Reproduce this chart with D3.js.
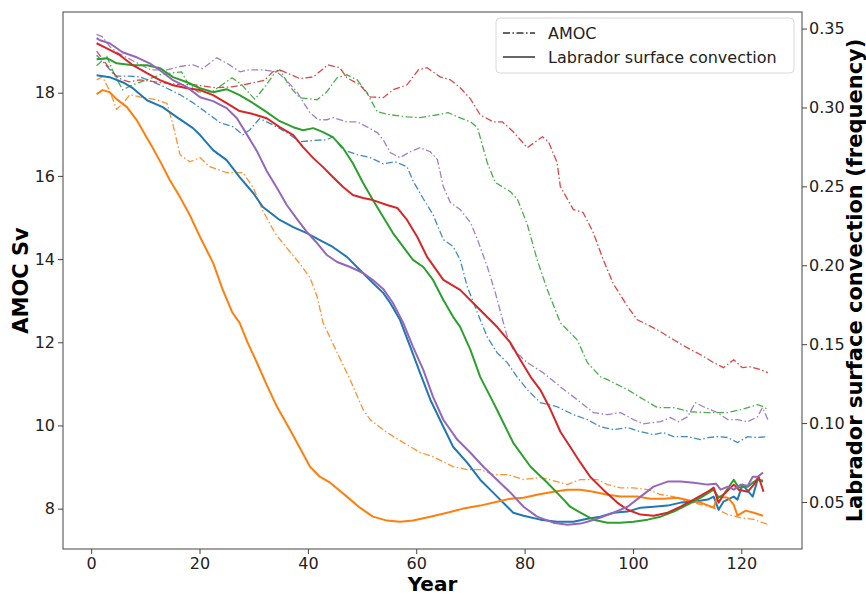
<!DOCTYPE html>
<html>
<head>
<meta charset="utf-8">
<script src="https://cdn.jsdelivr.net/npm/d3@7"></script>
<style>
  body { margin: 0; background: #fff; }
  svg { font-family: "DejaVu Sans", sans-serif; }
</style>
</head>
<body>
<svg id="chart" width="866" height="595"></svg>
<script>
// AMOC (Sv, left axis) - dash-dot lines, [year, value]
var amocBlue = [[1,18.9],[2.5,18.7],[4.4,18.4],[7,18.4],[9,18.38],[12.7,18.19],[16.4,17.95],[18.8,17.76],[21.3,17.52],[23.8,17.28],[26.2,17.18],[28,16.99],[29.3,17.11],[31.1,17.38],[33.5,17.23],[36.1,17.04],[38.5,16.82],[40.9,16.85],[43.5,16.87],[44.6,16.94],[46.5,16.63],[49.1,16.51],[51.5,16.44],[53.9,16.29],[56.1,16.34],[58.3,16.22],[59.4,15.88],[61.3,15.45],[63.1,15.07],[65,14.47],[66.8,14.3],[68.1,13.99],[69.4,13.34],[71.3,12.71],[73.1,12.13],[74.9,11.75],[76.8,11.51],[78.6,11.17],[80.5,10.86],[82.9,10.55],[86,10.45],[89,10.26],[91.6,10.14],[94,9.97],[96.4,9.9],[99,9.95],[101.4,9.85],[103.8,9.78],[105.6,9.83],[107.5,9.73],[110.1,9.73],[112.5,9.66],[113.8,9.71],[115.6,9.73],[117.5,9.71],[119.3,9.59],[121.2,9.73],[123,9.71],[124.9,9.73]];
var amocOrange = [[1,18.31],[2.1,18.38],[3.4,18.05],[4.7,17.6],[6,17.76],[7.1,17.95],[9,17.9],[12.1,17.83],[14,17.74],[15.1,17.23],[16.4,16.51],[18.2,16.34],[20.1,16.44],[21.9,16.22],[25,16.08],[28,16.08],[29.9,15.72],[31.7,15.16],[33.9,14.63],[36.1,14.27],[38.5,13.89],[40.4,13.55],[41.7,13.1],[42.8,12.47],[45.4,11.75],[47.8,11.1],[50.2,10.38],[51.5,10.14],[54.6,9.83],[57.6,9.59],[60.7,9.35],[63.1,9.25],[66.8,9.01],[69.4,8.94],[71.8,8.94],[74.2,8.82],[76.8,8.82],[79.8,8.7],[82.9,8.75],[86,8.65],[87.9,8.58],[90.3,8.7],[93.4,8.7],[95.3,8.58],[97.7,8.5],[100.1,8.5],[102.7,8.46],[105.1,8.34],[107.5,8.29],[110.1,8.17],[112.5,8.1],[114.9,8.02],[117.5,7.86],[119.9,7.78],[122.3,7.74],[124.9,7.62]];
var amocGreen = [[1,18.65],[1.6,18.72],[2.9,18.87],[4.3,18.43],[5.8,18.07],[7.7,18.19],[10.3,18.31],[12.7,18.43],[15.1,18.48],[16.7,18.5],[17.8,18.24],[19.7,18.02],[22.3,18.02],[24.7,18.24],[26,18.36],[27.8,18.19],[30.2,17.84],[32.1,18.15],[33.9,18.48],[34.8,18.55],[36.7,18.14],[38.5,17.88],[41.7,17.83],[43.5,18.02],[45.4,18.36],[47.2,18.43],[49.1,18.31],[50.9,18.0],[52.8,17.54],[55.2,17.47],[58.3,17.42],[60.7,17.4],[63.9,17.47],[65.9,17.52],[67.6,17.42],[70,17.3],[71.3,17.16],[73.1,16.32],[74.6,15.84],[77.4,15.62],[78.7,15.43],[80.5,14.83],[82.3,13.99],[84.2,13.26],[86.6,12.47],[89.7,12.06],[91.6,11.51],[94,11.17],[95.3,11.1],[99,10.86],[101.4,10.67],[104.5,10.43],[107.5,10.43],[110.6,10.33],[113.8,10.31],[117.5,10.31],[119.9,10.38],[123,10.5],[124.1,10.45],[124.9,10.38]];
var amocRed = [[1,19.0],[3,18.65],[5,18.35],[7,18.26],[9,18.31],[13,18.24],[16,18.2],[19,18.19],[23,18.12],[26,18.14],[30,18.24],[32,18.3],[33.5,18.5],[34.8,18.55],[38.5,18.34],[41,18.38],[43.7,18.67],[45.9,18.6],[47.2,18.36],[49.6,18.19],[51.5,17.9],[53.9,17.88],[55.7,18.07],[58.3,18.19],[60.4,18.55],[62,18.6],[64.4,18.38],[66.3,18.31],[68.1,18.12],[70,17.85],[71.8,17.47],[74.2,17.3],[75.9,17.3],[77.9,17.06],[80.5,16.68],[83.3,16.94],[84.4,16.82],[86,16.32],[86.6,15.74],[89,15.19],[90.8,15.12],[92.7,14.63],[94.5,13.99],[96.4,13.4],[99,12.86],[100.8,12.54],[102.7,12.42],[104.5,12.3],[107.5,12.06],[110,11.87],[112.5,11.7],[114.9,11.51],[116.7,11.39],[118.6,11.58],[120.2,11.39],[121.7,11.41],[123.6,11.34],[124.9,11.27]];
var amocPurple = [[1,19.4],[2,19.35],[3.5,19.1],[5,18.95],[8,18.75],[11,18.55],[14,18.55],[16.4,18.63],[18.8,18.67],[20.6,18.58],[23.2,18.84],[25.4,18.68],[27.5,18.5],[29,18.55],[31.7,18.55],[34.3,18.5],[36.1,18.29],[38,18.02],[39.1,17.78],[40.4,17.52],[41.9,17.35],[43.5,17.35],[44.6,17.4],[47.2,17.3],[49.1,17.3],[50.9,17.18],[52.8,17.04],[53.9,16.87],[55.2,16.56],[57,16.44],[58.9,16.58],[60.7,16.68],[62.6,16.58],[63.9,16.39],[65,15.74],[66.3,15.36],[68.1,15.19],[70,14.88],[71.3,14.47],[73.1,13.82],[74.6,13.19],[76.8,12.13],[77.9,11.82],[80.5,11.51],[83.4,11.27],[86.6,10.93],[89.7,10.62],[92.7,10.31],[95.3,10.26],[97.7,10.31],[100.1,10.14],[101.9,10.04],[105.1,10.09],[106.9,10.19],[108.4,10.09],[110.1,10.21],[111.5,10.55],[113,10.45],[115.6,10.31],[117.5,10.14],[119.3,10.14],[121.2,10.09],[123,10.21],[123.9,10.43],[124.9,10.14]];

// Labrador surface convection (frequency, right axis) - solid lines
var labBlue = [[1,0.3204],[3.4,0.3192],[5.8,0.316],[7.7,0.3122],[10.3,0.3046],[13.2,0.3002],[15.8,0.2939],[18.8,0.2869],[20.1,0.2825],[22.5,0.273],[25,0.2666],[27.4,0.2559],[29.9,0.2458],[31.7,0.2369],[34.8,0.2287],[37.3,0.2242],[39.8,0.2204],[42.2,0.216],[44.6,0.2116],[47.2,0.2053],[49.6,0.197],[52,0.1888],[53.9,0.1825],[55.2,0.1761],[57,0.1654],[58.9,0.1483],[60.7,0.1318],[62.6,0.1148],[65,0.0977],[66.8,0.085],[69.4,0.0749],[71.8,0.0641],[74.2,0.0559],[76.8,0.047],[77.9,0.0432],[79.8,0.0413],[82.9,0.0388],[86,0.0375],[89,0.0375],[91.6,0.0394],[94,0.0407],[96.4,0.0432],[99,0.0439],[101.4,0.0464],[103.8,0.047],[106.4,0.0477],[108.8,0.0496],[111.2,0.0502],[113.8,0.0515],[114.9,0.0534],[115.8,0.0451],[116.7,0.0502],[118.6,0.0534],[119.3,0.0515],[120.2,0.061],[122.1,0.0534],[123,0.0641],[124,0.0635]];
var labOrange = [[1,0.3084],[2.1,0.311],[3.4,0.3097],[4.7,0.3053],[6.6,0.3002],[8.4,0.292],[9.9,0.2831],[11.4,0.2742],[13,0.2641],[14.5,0.254],[16.4,0.2432],[18.2,0.2318],[20.1,0.2179],[22.5,0.2015],[24.3,0.1844],[26,0.1704],[27.4,0.1635],[28.9,0.1508],[30.6,0.1382],[32.4,0.1242],[34.3,0.1103],[36.7,0.0958],[38.5,0.0844],[40.4,0.0723],[42.2,0.066],[44.1,0.0622],[47.2,0.0534],[49.6,0.0464],[52,0.0407],[54.6,0.0382],[57,0.0375],[59.4,0.0382],[62.6,0.0407],[65.7,0.0432],[68.7,0.0458],[71.8,0.0477],[74.9,0.0502],[77.4,0.0521],[79.8,0.0527],[82.3,0.0546],[85.3,0.0565],[87.9,0.0578],[90.3,0.0578],[92.7,0.0565],[95.3,0.0546],[97.7,0.0534],[100.8,0.0534],[103.2,0.0521],[105.6,0.0521],[108.2,0.0527],[110.6,0.0508],[112.5,0.0496],[114.9,0.0464],[115.6,0.0534],[117.5,0.0527],[118.6,0.0483],[119.3,0.0413],[120.8,0.0445],[122.3,0.0432],[124,0.0413]];
var labGreen = [[1,0.3306],[2.9,0.3312],[4.7,0.328],[7.7,0.3268],[10.3,0.3268],[12.7,0.3249],[15.1,0.3192],[17.7,0.316],[20.1,0.3122],[22.5,0.3097],[25,0.3116],[27.4,0.3078],[29.9,0.3027],[32.4,0.297],[34.8,0.2913],[37.3,0.2875],[39.1,0.2856],[41,0.2869],[42.8,0.2844],[44.6,0.2812],[46.5,0.2742],[48.3,0.2647],[50.2,0.2521],[52,0.2413],[53.9,0.2306],[55.7,0.2204],[57.6,0.2116],[59.4,0.2034],[61.3,0.1989],[63.1,0.1907],[65,0.178],[66.8,0.1673],[68.1,0.161],[70,0.1464],[71.8,0.1293],[73.7,0.1166],[74.9,0.1084],[77.9,0.0875],[81.1,0.0723],[84.2,0.0622],[87.2,0.0515],[88.4,0.047],[90.3,0.0432],[92.7,0.0388],[95.3,0.0369],[97.7,0.0369],[100.1,0.0375],[102.7,0.0388],[105.1,0.0407],[107.5,0.0439],[110.1,0.0483],[112.5,0.0527],[114.9,0.0578],[115.8,0.0527],[116.7,0.0546],[118.6,0.0641],[119.5,0.0591],[121.2,0.0597],[122.1,0.0622],[123,0.0641],[124,0.0629]];
var labRed = [[1,0.3407],[2.9,0.3375],[5.3,0.3331],[7.7,0.3268],[10.3,0.3217],[12.7,0.3173],[15.1,0.3141],[17.7,0.3122],[20.1,0.311],[22.5,0.3078],[25,0.3027],[27.4,0.2977],[29.9,0.2958],[32.4,0.2932],[34.8,0.2875],[37.3,0.2825],[39.1,0.2749],[41,0.2679],[42.8,0.2622],[44.6,0.2559],[46.5,0.2496],[48.3,0.2445],[50.2,0.2426],[52,0.2413],[54.6,0.2382],[56.5,0.2363],[58.3,0.2287],[60.2,0.2179],[62,0.2053],[65,0.1907],[68.1,0.1844],[71.8,0.1717],[74.9,0.161],[77.4,0.1508],[79.2,0.1401],[81.1,0.1293],[82.9,0.1211],[84.8,0.1084],[86.6,0.0945],[88.4,0.085],[90.3,0.0749],[92.1,0.066],[94.5,0.0578],[97.1,0.0496],[99,0.0451],[101.4,0.042],[103.8,0.0413],[106.4,0.0432],[108.8,0.047],[111.2,0.0515],[113.8,0.0565],[114.9,0.0591],[115.8,0.0496],[116.7,0.0546],[118.6,0.061],[119.5,0.0578],[121.2,0.0565],[122.3,0.061],[123.2,0.066],[124.1,0.0565]];
var labPurple = [[1,0.3439],[1.6,0.3426],[3.4,0.3407],[5.8,0.335],[8.4,0.3318],[10.8,0.328],[12.7,0.3236],[15.1,0.3173],[17.7,0.3129],[20.1,0.3065],[22.5,0.304],[25,0.2996],[26.9,0.2932],[28.7,0.2831],[30.6,0.2723],[32.4,0.2597],[34.3,0.2489],[36.1,0.2382],[38,0.2293],[39.8,0.2211],[41.7,0.2141],[43.5,0.2065],[45.4,0.2021],[47.8,0.1989],[50.2,0.1951],[52,0.1907],[53.9,0.185],[55.7,0.1761],[57.6,0.1635],[59.4,0.1483],[61.3,0.1337],[63.1,0.1166],[65,0.1021],[67.6,0.0894],[70,0.0812],[72.4,0.0723],[74.9,0.0641],[77.4,0.0559],[79.8,0.047],[82.3,0.0407],[85.3,0.0369],[87.9,0.0356],[90.3,0.0363],[91.6,0.0375],[94,0.0401],[96.4,0.0432],[99,0.047],[101.4,0.0534],[103.8,0.0597],[106.4,0.0629],[108.8,0.0629],[111.2,0.0622],[113.8,0.061],[115.3,0.0616],[116.2,0.0578],[117.5,0.0597],[118.6,0.0578],[119.9,0.061],[121.2,0.0603],[122.1,0.066],[123,0.066],[124,0.0686]];

var xTicks = [0, 20, 40, 60, 80, 100, 120];
var svTicks = [8, 10, 12, 14, 16, 18];
var freqTicks = [0.05, 0.10, 0.15, 0.20, 0.25, 0.30, 0.35];
var legendLabels = ['AMOC', 'Labrador surface convection'];

var colors = {blue: '#1f77b4', orange: '#ff7f0e', green: '#2ca02c', red: '#d62728', purple: '#9467bd'};

var amocSeries = [
  {c: colors.blue, d: amocBlue}, {c: colors.orange, d: amocOrange}, {c: colors.green, d: amocGreen},
  {c: colors.red, d: amocRed}, {c: colors.purple, d: amocPurple}
];
var labSeries = [
  {c: colors.blue, d: labBlue}, {c: colors.orange, d: labOrange}, {c: colors.green, d: labGreen},
  {c: colors.red, d: labRed}, {c: colors.purple, d: labPurple}
];

// plot box (window.top is reserved, so use pad* names)
var padLeft = 63, padRight = 802, padTop = 12, padBottom = 549;

var svg = d3.select('#chart');

var x = d3.scaleLinear().domain([-5.2, 131.2]).range([padLeft, padRight]);
var ySv = d3.scaleLinear().domain([7.03, 19.94]).range([padBottom, padTop]);
var yFreq = d3.scaleLinear().domain([0.0202, 0.3605]).range([padBottom, padTop]);

// axes
function styleAxis(g) {
  g.select('.domain').remove();
  g.selectAll('.tick line').attr('stroke', '#444').attr('stroke-width', 1);
  g.selectAll('.tick text').attr('fill', '#222').style('font-size', '16px').style('font-family', 'DejaVu Sans');
}

svg.append('g')
  .attr('transform', 'translate(0,' + padBottom + ')')
  .call(d3.axisBottom(x).tickValues(xTicks).tickSize(5).tickPadding(4))
  .call(styleAxis);

svg.append('g')
  .attr('transform', 'translate(' + padLeft + ',0)')
  .call(d3.axisLeft(ySv).tickValues(svTicks).tickSize(5).tickPadding(3))
  .call(styleAxis);

svg.append('g')
  .attr('transform', 'translate(' + padRight + ',0)')
  .call(d3.axisRight(yFreq).tickValues(freqTicks).tickFormat(d3.format('.2f')).tickSize(5).tickPadding(2))
  .call(styleAxis);

// lines
var plot = svg.append('g');

var svLine = d3.line().x(d => x(d[0])).y(d => ySv(d[1]));
var freqLine = d3.line().x(d => x(d[0])).y(d => yFreq(d[1]));

plot.selectAll('path.amoc')
  .data(amocSeries)
  .enter().append('path')
  .attr('class', 'amoc')
  .attr('d', s => svLine(s.d))
  .attr('fill', 'none')
  .attr('stroke', s => s.c)
  .attr('stroke-width', 1.3)
  .attr('stroke-opacity', 0.85)
  .attr('stroke-dasharray', '7,2.5,1.5,2.5');

plot.selectAll('path.lab')
  .data(labSeries)
  .enter().append('path')
  .attr('class', 'lab')
  .attr('d', s => freqLine(s.d))
  .attr('fill', 'none')
  .attr('stroke', s => s.c)
  .attr('stroke-width', 2)
  .attr('stroke-linejoin', 'round');

// frame
svg.append('rect')
  .attr('x', padLeft).attr('y', padTop)
  .attr('width', padRight - padLeft).attr('height', padBottom - padTop)
  .attr('fill', 'none').attr('stroke', '#444').attr('stroke-width', 1);

// axis titles
svg.append('text')
  .attr('transform', 'translate(28,' + ((padTop + padBottom) / 2) + ') rotate(-90)')
  .attr('text-anchor', 'middle')
  .style('font-size', '21px').style('font-weight', 'bold')
  .text('AMOC Sv');

svg.append('text')
  .attr('x', (padLeft + padRight) / 2).attr('y', 591)
  .attr('text-anchor', 'middle')
  .style('font-size', '20px').style('font-weight', 'bold')
  .text('Year');

svg.append('text')
  .attr('transform', 'translate(862,' + ((padTop + padBottom) / 2) + ') rotate(-90)')
  .attr('text-anchor', 'middle')
  .style('font-size', '21px').style('font-weight', 'bold')
  .text('Labrador surface convection (frequency)');

// legend
var legend = svg.append('g').attr('transform', 'translate(496,18)');
legend.append('rect')
  .attr('width', 298).attr('height', 55).attr('rx', 4)
  .attr('fill', '#fff').attr('fill-opacity', 0.8)
  .attr('stroke', '#d8d8d8');

legend.selectAll('line')
  .data(legendLabels)
  .enter().append('line')
  .attr('x1', 7).attr('x2', 39)
  .attr('y1', (d, i) => 15 + i * 24).attr('y2', (d, i) => 15 + i * 24)
  .attr('stroke', '#333').attr('stroke-width', 1.5)
  .attr('stroke-dasharray', (d, i) => i == 0 ? '7,2.5,1.5,2.5' : null);

legend.selectAll('text')
  .data(legendLabels)
  .enter().append('text')
  .attr('x', 52)
  .attr('y', (d, i) => 21 + i * 24)
  .style('font-size', '16px')
  .attr('fill', '#222')
  .text(d => d);
</script>
</body>
</html>
